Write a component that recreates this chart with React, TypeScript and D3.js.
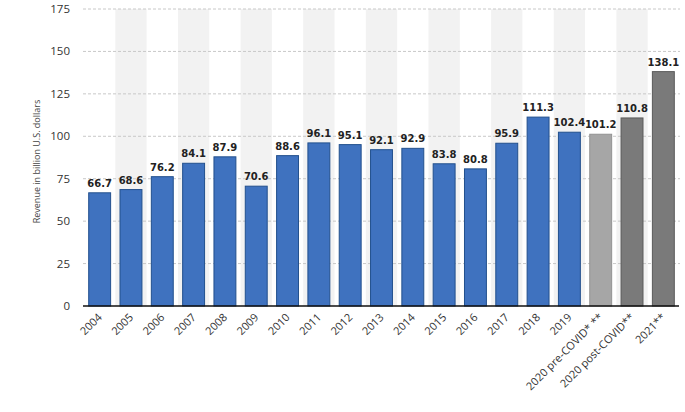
import React from "react";
import * as d3 from "d3";

const categories = ["2004","2005","2006","2007","2008","2009","2010","2011","2012","2013","2014","2015","2016","2017","2018","2019","2020 pre-COVID* **","2020 post-COVID**","2021**"];
const revenue = [66.7,68.6,76.2,84.1,87.9,70.6,88.6,96.1,95.1,92.1,92.9,83.8,80.8,95.9,111.3,102.4,101.2,110.8,138.1];
const barKinds = ["actual","actual","actual","actual","actual","actual","actual","actual","actual","actual","actual","actual","actual","actual","actual","actual","pre","forecast","forecast"];
const yTicks = [0,25,50,75,100,125,150,175];

const W = 685, H = 412;
const left = 84, right = 679, top = 9, bottom = 306;

const fills: Record<string,string> = { actual: "#3f72bf", pre: "#a6a6a6", forecast: "#7a7a7a" };
const strokes: Record<string,string> = { actual: "#22508d", pre: "#929292", forecast: "#5a5a5a" };

export default function App() {
  const x = d3.scaleBand<string>().domain(categories).range([left, right]).paddingInner(0.3).paddingOuter(0.15);
  const y = d3.scaleLinear().domain([0, 175]).range([bottom, top]);
  const step = x.step();
  const bw = x.bandwidth();
  const font = "'Open Sans', sans-serif";
  return (
    <svg width={W} height={H} style={{ position: "absolute", left: 0, top: 0, background: "#fff" }}>
      {categories.map((c, i) => i % 2 === 1 ? (
        <rect key={"s"+c} x={(x(c) as number) + bw / 2 - step / 2} y={top} width={step} height={bottom - top} fill="#f2f2f2" />
      ) : null)}
      {yTicks.map(t => (
        <g key={"t"+t}>
          {t > 0 && <line x1={left - 1} x2={right + 1} y1={y(t)} y2={y(t)} stroke="#c8c8c8" strokeWidth={1} strokeDasharray="3,2" />}
          <text x={70} y={y(t) + 4} textAnchor="end" fontFamily={font} fontSize={11.5} fill="#333">{t}</text>
        </g>
      ))}
      <text transform={`translate(40,${(top + bottom) / 2 + 4}) rotate(-90)`} textAnchor="middle" fontFamily={font} fontSize={9} fill="#444">Revenue in billion U.S. dollars</text>
      {categories.map((c, i) => (
        <rect key={"b"+c} x={x(c)} y={y(revenue[i])} width={bw} height={bottom - y(revenue[i])} fill={fills[barKinds[i]]} stroke={strokes[barKinds[i]]} strokeWidth={1} />
      ))}
      {categories.map((c, i) => (
        <text key={"v"+c} x={(x(c) as number) + bw / 2} y={y(revenue[i]) - 6} textAnchor="middle" fontFamily="'DejaVu Sans', sans-serif" fontWeight="bold" fontSize={10} fill="#222">{revenue[i].toFixed(1)}</text>
      ))}
      <line x1={left - 1} x2={right} y1={bottom} y2={bottom} stroke="#111" strokeWidth={1.5} />
      {categories.map((c) => {
        const cx = (x(c) as number) + bw / 2 + 3;
        return (
          <text key={"l"+c} transform={`translate(${cx},${bottom + 12}) rotate(-45)`} textAnchor="end" fontFamily={font} fontSize={11} fill="#333">{c}</text>
        );
      })}
    </svg>
  );
}
